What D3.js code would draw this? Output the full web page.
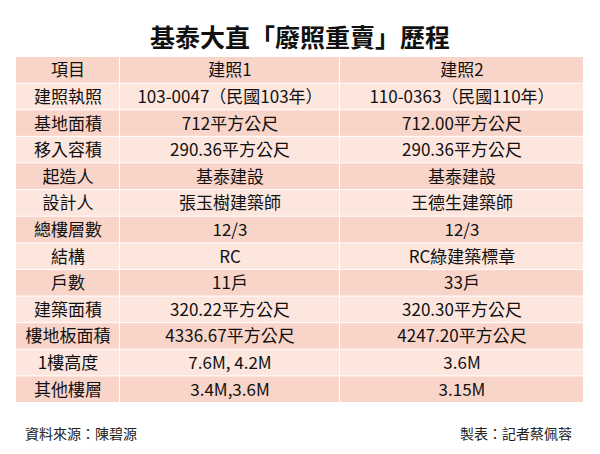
<!DOCTYPE html><html><head><meta charset="utf-8"><script src="https://cdn.jsdelivr.net/npm/d3@7"></script>
<style>body{margin:0;background:#fff}</style></head><body><svg id="c" width="600" height="454"></svg>
<script>
const title="基泰大直「廢照重賣」歷程";
const header=["項目","建照1","建照2"];
const items=["建照執照","基地面積","移入容積","起造人","設計人","總樓層數","結構","戶數","建築面積","樓地板面積","1樓高度","其他樓層"];
const permit1=["103-0047（民國103年）","712平方公尺","290.36平方公尺","基泰建設","張玉樹建築師","12/3","RC","11戶","320.22平方公尺","4336.67平方公尺","7.6M, 4.2M","3.4M,3.6M"];
const permit2=["110-0363（民國110年）","712.00平方公尺","290.36平方公尺","基泰建設","王德生建築師","12/3","RC綠建築標章","33戶","320.30平方公尺","4247.20平方公尺","3.6M","3.15M"];
const source="資料來源：陳碧源", maker="製表：記者蔡佩蓉";
const rows=[header].concat(items.map((d,i)=>[d,permit1[i],permit2[i]]));
const svg=d3.select("#c"), F="'Noto Sans CJK TC','Noto Sans',sans-serif";
svg.append("text").attr("x",300).attr("y",47).attr("text-anchor","middle").attr("font-family",F).attr("font-weight","bold").attr("font-size",25).attr("fill","#111").text(title);
const y=d3.scaleBand().domain(d3.range(rows.length)).range([57,403]);
const edges=[16,120,340,584];
rows.forEach((r,i)=>{r.forEach((t,j)=>{
 svg.append("rect").attr("x",edges[j]).attr("y",y(i)).attr("width",edges[j+1]-edges[j]-1).attr("height",y.bandwidth()-1).attr("fill",i%2==0?"#f9d5c9":"#fce6de");
 svg.append("text").attr("x",(edges[j]+edges[j+1])/2).attr("y",y(i)+y.bandwidth()/2+6).attr("text-anchor","middle").attr("font-family",F).attr("font-size",17).attr("fill","#111").text(t);
});});
svg.append("text").attr("x",25).attr("y",439).attr("font-family",F).attr("font-size",14).attr("fill","#222").text(source);
svg.append("text").attr("x",572).attr("y",439).attr("text-anchor","end").attr("font-family",F).attr("font-size",14).attr("fill","#222").text(maker);
</script></body></html>
